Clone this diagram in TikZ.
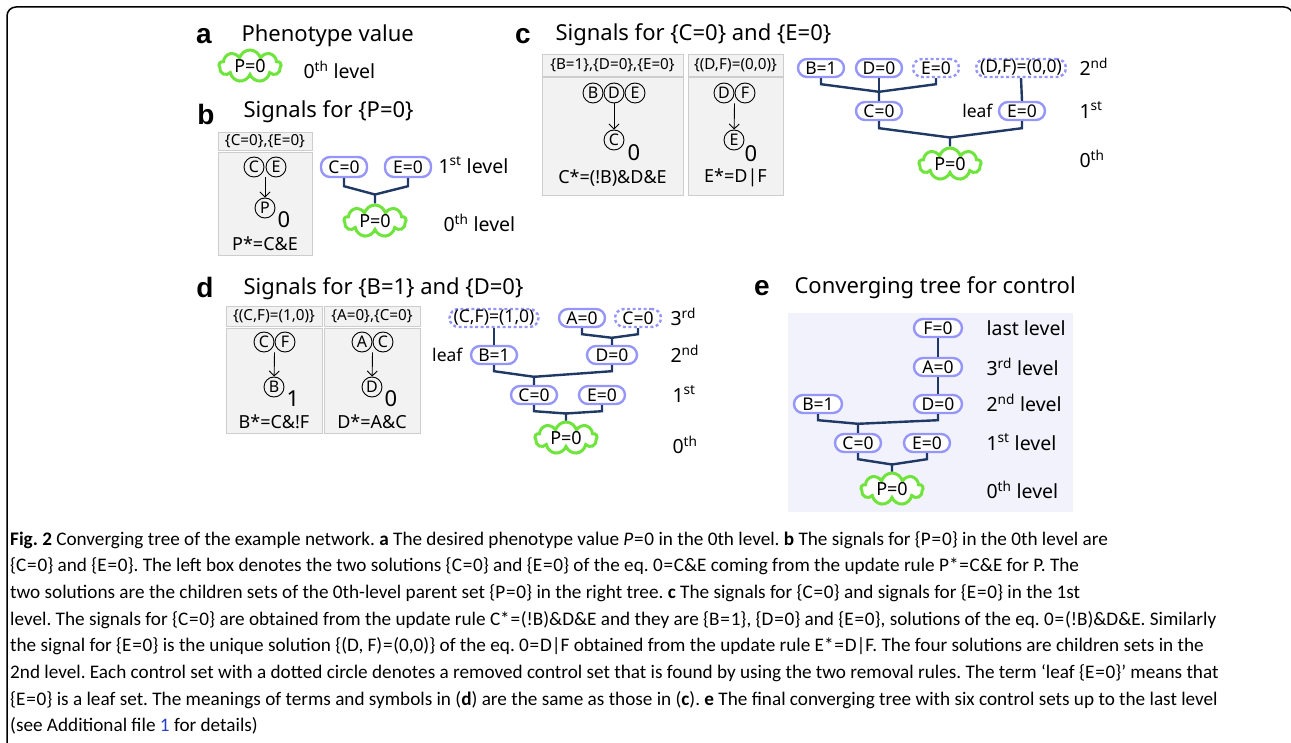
\documentclass[tikz,border=0pt]{standalone}
\usepackage{fontspec}
\setmainfont{Noto Sans}
\newfontfamily\capfont{Carlito}
\newfontfamily\tagfont{Liberation Sans}
\usetikzlibrary{shapes.symbols,arrows.meta,calc}

\definecolor{setblue}{RGB}{150,150,250}
\definecolor{linkblue}{RGB}{31,56,100}
\definecolor{cloudgreen}{RGB}{110,228,60}
\definecolor{boxgray}{RGB}{242,242,242}
\definecolor{boxline}{RGB}{205,205,205}
\definecolor{treebg}{RGB}{242,242,252}
\definecolor{refblue}{RGB}{40,60,200}

% tight equals sign for the caption
\newcommand{\ceq}{\kern0.04em=\kern0.04em}

\begin{document}
\begin{tikzpicture}[x=1pt, y=-1pt,
    cset/.style={draw=setblue, line width=2.4pt, fill=white, rounded corners=9pt,
        minimum height=18pt, minimum width=46pt, inner xsep=4pt, inner ysep=0pt,
        font=\fontsize{17.5}{17.5}\selectfont},
    gone/.style={cset, dash pattern=on 3pt off 2.5pt},
    pheno/.style={cloud, cloud puffs=9, aspect=2.1, draw=cloudgreen, line width=3pt,
        fill=white, minimum width=62pt, minimum height=32pt, inner sep=0pt,
        font=\fontsize{18}{18}\selectfont},
    link/.style={draw=linkblue, line width=2.4pt},
    gene/.style={circle, draw, line width=0.9pt, minimum size=20pt, inner sep=0pt,
        font=\fontsize{16}{16}\selectfont},
    arr/.style={-{Straight Barb[length=5pt,width=10pt]}, line width=0.9pt},
    hdr/.style={draw=boxline, fill=boxgray, line width=0.8pt, inner sep=0pt,
        font=\fontsize{15.2}{15.2}\selectfont},
    gbox/.style={draw=boxline, fill=boxgray, line width=0.8pt},
    updrule/.style={font=\fontsize{18}{18}\selectfont},
    outval/.style={font=\fontsize{22}{22}\selectfont},
    tag/.style={font=\tagfont\bfseries\fontsize{28}{28}\selectfont},
    headline/.style={anchor=west, font=\fontsize{22}{22}\selectfont},
    lvl/.style={anchor=west, font=\fontsize{19.5}{19.5}\selectfont}
]
\clip (0,0) rectangle (1291,743);
\draw[line width=1.5pt, rounded corners=9pt] (7,760) -- (7,7) -- (1293,7) -- (1293,760);

% a: phenotype value
\node[tag] (tagA) at (204,36) {a};
\node[headline] (headA) at (238,36) {Phenotype value};
\node[pheno] (aP) at (250,66) {P=0};
\node[lvl] (lvlA) at (300,70) {0\textsuperscript{th} level};

% b: signals for P=0
\node[tag] (tagB) at (206,114) {b};
\node[headline] (headB) at (240,112) {Signals for \{P=0\}};
\node[hdr, minimum width=94pt, minimum height=18pt] (bHead) at (265,141.5) {\{C=0\},\{E=0\}};
\node[gbox, minimum width=94pt, minimum height=103pt] (bBox) at (265,203.5) {};
\node[gene] (bGc) at (254,167) {C};
\node[gene] (bGe) at (276,167) {E};
\node[gene] (bGp) at (265,208) {P};
\coordinate (bSrc) at ($(bGc.south)!0.5!(bGe.south)$);
\draw[arr] (bSrc) -- (bGp);
\node[outval] (bOut) at ($(bGp)+(19,12)$) {0};
\node[updrule] (bRule) at (265,244) {P*=C\&E};

\node[cset, minimum height=20pt] (bC0) at (344,167) {C=0};
\node[cset, minimum height=20pt] (bE0) at (408,167) {E=0};
\node[pheno] (bP0) at (375,221) {P=0};
\node[lvl] (lvlB1) at (435,165) {1\textsuperscript{st} level};
\node[lvl] (lvlB0) at (440,223) {0\textsuperscript{th} level};
\coordinate (bJ) at ($(bP0.north)+(0,-9)$);
\draw[link] (bC0.south) -- ++(0,8) -- (bJ) -- (bP0.north);
\draw[link] (bE0.south) -- ++(0,8) -- (bJ);

% c: signals for C=0 and E=0
\node[tag] (tagC) at (523,36) {c};
\node[headline] (headC) at (552,35) {Signals for \{C=0\} and \{E=0\}};
\node[hdr, minimum width=141pt, minimum height=22pt] (cHeadL) at (612.5,65) {\{B=1\},\{D=0\},\{E=0\}};
\node[gbox, minimum width=141pt, minimum height=118pt] (cBoxL) at (612.5,136) {};
\node[hdr, minimum width=95pt, minimum height=22pt] (cHeadR) at (735.5,65) {\{(D,F)=(0,0)\}};
\node[gbox, minimum width=95pt, minimum height=118pt] (cBoxR) at (735.5,136) {};
\node[gene] (cGb) at (593,93) {B};
\node[gene] (cGd) at (614,93) {D};
\node[gene] (cGe) at (635,93) {E};
\node[gene] (cGc) at (614,140) {C};
\draw[arr] (cGd.south) -- (cGc);
\node[outval] (cOutL) at ($(cGc)+(20,13)$) {0};
\node[updrule] (cRuleL) at (612.5,178) {C*=(!B)\&D\&E};
\node[gene] (cGd2) at (724,93) {D};
\node[gene] (cGf) at (745,93) {F};
\node[gene] (cGe2) at (734,140) {E};
\coordinate (cSrc) at ($(cGd2.south)!0.5!(cGf.south)$);
\draw[arr] (cSrc) -- (cGe2);
\node[outval] (cOutR) at ($(cGe2)+(17,14)$) {0};
\node[updrule] (cRuleR) at (735.5,178) {E*=D|F};

\node[cset] (cB1) at (821,68) {B=1};
\node[cset] (cD0) at (879,68) {D=0};
\node[gone] (cE0x) at (936,68) {E=0};
\node[gone] (cDF) at (1021,68) {(D,F)=(0,0)};
\node[cset] (cC0) at (879,111) {C=0};
\node[cset] (cE0) at (1022,111) {E=0};
\node[anchor=east, font=\fontsize{17.5}{17.5}\selectfont] (cLeaf) at (996,111) {leaf};
\node[pheno] (cP0) at (950,164) {P=0};
\node[lvl] (lvlC2) at (1076,67) {2\textsuperscript{nd}};
\node[lvl] (lvlC1) at (1076,110) {1\textsuperscript{st}};
\node[lvl] (lvlC0) at (1076,159) {0\textsuperscript{th}};
\coordinate (cJ2) at ($(cC0.north)+(0,-9)$);
\draw[link] (cB1.south) -- ++(0,6) -- (cJ2) -- (cC0.north);
\draw[link] (cE0x.south) -- ++(0,6) -- (cJ2);
\draw[link] (cD0.south) -- (cC0.north);
\draw[link] (cDF.south) -- (cE0.north);
\coordinate (cJ1) at ($(cP0.north)+(0,-9)$);
\draw[link] (cC0.south) -- ++(0,7) -- (cJ1) -- (cP0.north);
\draw[link] (cE0.south) -- ++(0,7) -- (cJ1);

% d: signals for B=1 and D=0
\node[tag] (tagD) at (205,287) {d};
\node[headline] (headD) at (240,289) {Signals for \{B=1\} and \{D=0\}};
\node[hdr, minimum width=96pt, minimum height=20pt] (dHeadL) at (274,316) {\{(C,F)=(1,0)\}};
\node[gbox, minimum width=96pt, minimum height=105pt] (dBoxL) at (274,380.5) {};
\node[hdr, minimum width=96pt, minimum height=20pt] (dHeadR) at (372,316) {\{A=0\},\{C=0\}};
\node[gbox, minimum width=96pt, minimum height=105pt] (dBoxR) at (372,380.5) {};
\node[gene] (dGc) at (264,342) {C};
\node[gene] (dGf) at (285,342) {F};
\node[gene] (dGb) at (274,387) {B};
\coordinate (dSrcL) at ($(dGc.south)!0.5!(dGf.south)$);
\draw[arr] (dSrcL) -- (dGb);
\node[outval] (dOutL) at ($(dGb)+(19,12)$) {1};
\node[updrule] (dRuleL) at (274,422) {B*=C\&!F};
\node[gene] (dGa) at (362,342) {A};
\node[gene] (dGc2) at (383,342) {C};
\node[gene] (dGd) at (372,387) {D};
\coordinate (dSrcR) at ($(dGa.south)!0.5!(dGc2.south)$);
\draw[arr] (dSrcR) -- (dGd);
\node[outval] (dOutR) at ($(dGd)+(19,12)$) {0};
\node[updrule] (dRuleR) at (372,422) {D*=A\&C};

\node[gone] (dCF) at (494,318) {(C,F)=(1,0)};
\node[cset] (dA0) at (582,318) {A=0};
\node[gone] (dC0x) at (638,318) {C=0};
\node[cset] (dB1) at (494,355) {B=1};
\node[anchor=east, font=\fontsize{17.5}{17.5}\selectfont] (dLeaf) at (466,355) {leaf};
\node[cset, minimum width=50pt] (dD0) at (612,355) {D=0};
\node[cset] (dC0) at (534,395) {C=0};
\node[cset] (dE0) at (602,395) {E=0};
\node[pheno] (dP0) at (566,438) {P=0};
\node[lvl] (lvlD3) at (667,317) {3\textsuperscript{rd}};
\node[lvl] (lvlD2) at (667,354) {2\textsuperscript{nd}};
\node[lvl] (lvlD1) at (669,394) {1\textsuperscript{st}};
\node[lvl] (lvlD0) at (669,445) {0\textsuperscript{th}};
\draw[link] (dCF.south) -- (dB1.north);
\coordinate (dJ3) at ($(dD0.north)+(0,-7)$);
\draw[link] (dA0.south) -- ++(0,6) -- (dJ3) -- (dD0.north);
\draw[link] (dC0x.south) -- ++(0,6) -- (dJ3);
\coordinate (dJ2) at ($(dC0.north)+(0,-8)$);
\draw[link] (dB1.south) -- ++(0,6) -- (dJ2) -- (dC0.north);
\draw[link] (dD0.south) -- ++(0,6) -- (dJ2);
\coordinate (dJ1) at ($(dP0.north)+(0,-7)$);
\draw[link] (dC0.south) -- ++(0,6) -- (dJ1) -- (dP0.north);
\draw[link] (dE0.south) -- ++(0,6) -- (dJ1);

% e: converging tree for control
\node[tag] (tagE) at (762,288) {e};
\node[headline] (headE) at (791,288) {Converging tree for control};
\fill[treebg] (788,313) rectangle (1073,512);
\node[cset, minimum width=48pt] (eF0) at (938,328) {F=0};
\node[cset, minimum width=48pt] (eA0) at (938,367) {A=0};
\node[cset, minimum width=48pt] (eB1) at (818,404) {B=1};
\node[cset, minimum width=48pt] (eD0) at (938,404) {D=0};
\node[cset] (eC0) at (858,443) {C=0};
\node[cset] (eE0) at (927,443) {E=0};
\node[pheno] (eP0) at (892,489) {P=0};
\node[lvl] (lvlE4) at (983,328) {last level};
\node[lvl] (lvlE3) at (983,367) {3\textsuperscript{rd} level};
\node[lvl] (lvlE2) at (983,403) {2\textsuperscript{nd} level};
\node[lvl] (lvlE1) at (983,442) {1\textsuperscript{st} level};
\node[lvl] (lvlE0) at (983,490) {0\textsuperscript{th} level};
\draw[link] (eF0.south) -- (eA0.north);
\draw[link] (eA0.south) -- (eD0.north);
\coordinate (eJ2) at ($(eC0.north)+(0,-9)$);
\draw[link] (eB1.south) -- ++(0,6) -- (eJ2) -- (eC0.north);
\draw[link] (eD0.south) -- ++(0,6) -- (eJ2);
\coordinate (eJ1) at ($(eP0.north)+(0,-7)$);
\draw[link] (eC0.south) -- ++(0,6) -- (eJ1) -- (eP0.north);
\draw[link] (eE0.south) -- ++(0,6) -- (eJ1);

% caption
\node[anchor=north west, inner sep=0pt, align=left,
      font=\capfont\frenchspacing\fontsize{19.2}{26.7}\selectfont] (caption) at (10,531) {%
\textbf{Fig. 2} Converging tree of the example network. \textbf{a} The desired phenotype value \textit{P}\ceq 0 in the 0th level. \textbf{b} The signals for \{P\ceq 0\} in the 0th level are\\
\{C\ceq 0\} and \{E\ceq 0\}. The left box denotes the two solutions \{C\ceq 0\} and \{E\ceq 0\} of the eq. 0\ceq C\&E coming from the update rule P*\ceq C\&E for P. The\\
two solutions are the children sets of the 0th-level parent set \{P\ceq 0\} in the right tree. \textbf{c} The signals for \{C\ceq 0\} and signals for \{E\ceq 0\} in the 1st\\
level. The signals for \{C\ceq 0\} are obtained from the update rule C*\ceq(!B)\&D\&E and they are \{B\ceq 1\}, \{D\ceq 0\} and \{E\ceq 0\}, solutions of the eq. 0\ceq(!B)\&D\&E. Similarly\\
the signal for \{E\ceq 0\} is the unique solution \{(D, F)\ceq(0,0)\} of the eq. 0\ceq D|F obtained from the update rule E*\ceq D|F. The four solutions are children sets in the\\
2nd level. Each control set with a dotted circle denotes a removed control set that is found by using the two removal rules. The term ‘leaf \{E\ceq 0\}’ means that\\
\{E\ceq 0\} is a leaf set. The meanings of terms and symbols in (\textbf{d}) are the same as those in (\textbf{c}). \textbf{e} The final converging tree with six control sets up to the last level\\
(see Additional file {\color{refblue}1} for details)};
\end{tikzpicture}
\end{document}
